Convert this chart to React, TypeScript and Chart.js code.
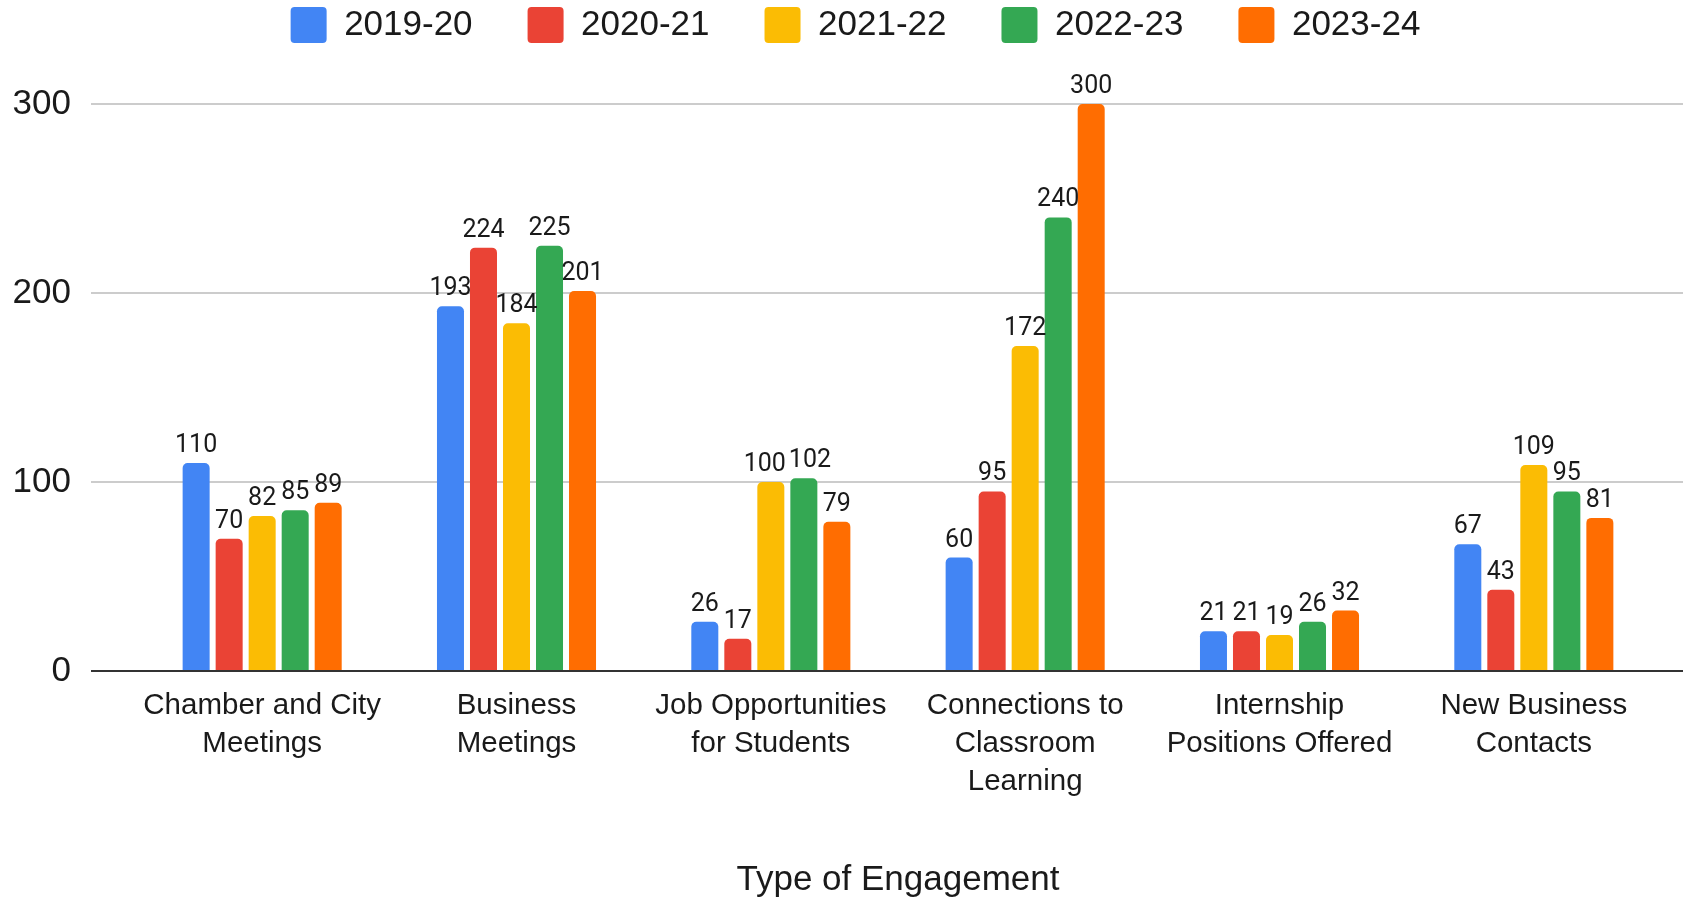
import { useEffect, useRef } from "react";
import { Chart, registerables } from "chart.js";

Chart.register(...registerables);

// ---- data ----
const categories: string[][] = [
  ["Chamber and City", "Meetings"],
  ["Business", "Meetings"],
  ["Job Opportunities", "for Students"],
  ["Connections to", "Classroom", "Learning"],
  ["Internship", "Positions Offered"],
  ["New Business", "Contacts"],
];
const seriesNames = ["2019-20", "2020-21", "2021-22", "2022-23", "2023-24"];
const values201920 = [110, 193, 26, 60, 21, 67];
const values202021 = [70, 224, 17, 95, 21, 43];
const values202122 = [82, 184, 100, 172, 19, 109];
const values202223 = [85, 225, 102, 240, 26, 95];
const values202324 = [89, 201, 79, 300, 32, 81];
const seriesColors = ["#4285F4", "#EA4335", "#FBBC04", "#34A853", "#FF6D01"];
const yMin = 0;
const yMax = 300;
const yStep = 100;
const xAxisTitle = "Type of Engagement";

// ---- style constants ----
const W = 1683;
const H = 901;
const GRID_COLOR = "#cccccc";
const ZERO_COLOR = "#333333";
const TEXT_COLOR = "#1a1a1a";
const TICK_LEN = 44;
const LABEL_GAP = 11;
const SANS = "'Liberation Sans', Arial, sans-serif";

const allSeries = [values201920, values202021, values202122, values202223, values202324];

const extrasPlugin = {
  id: "extras",
  afterLayout(chart: any) {
    // let the y tick labels use the space left of the axis box (avoid clipping)
    if (chart.scales.y) chart.scales.y.left = 0;
  },
  beforeDatasetsDraw(chart: any) {
    const { ctx, chartArea, scales } = chart;
    const y = scales.y;
    ctx.save();
    ctx.strokeStyle = GRID_COLOR;
    ctx.lineWidth = 2;
    y.ticks.forEach((t: any) => {
      if (t.value === 0) return;
      const py = Math.round(y.getPixelForValue(t.value));
      ctx.beginPath();
      ctx.moveTo(chartArea.right, py);
      ctx.lineTo(chart.width, py);
      ctx.stroke();
    });
    ctx.restore();
  },
  afterDatasetsDraw(chart: any) {
    const { ctx, chartArea, scales } = chart;
    const y = scales.y;
    ctx.save();
    // baseline over the bars
    const py0 = Math.round(y.getPixelForValue(0));
    ctx.strokeStyle = ZERO_COLOR;
    ctx.lineWidth = 2;
    ctx.beginPath();
    ctx.moveTo(chartArea.left - TICK_LEN, py0);
    ctx.lineTo(chart.width, py0);
    ctx.stroke();

    // value labels
    ctx.font = "25px Roboto, 'Liberation Sans', sans-serif";
    ctx.fillStyle = TEXT_COLOR;
    ctx.textAlign = "center";
    ctx.textBaseline = "alphabetic";
    const n = chart.data.labels.length;
    for (let c = 0; c < n; c++) {
      const items: { text: string; x: number; y: number; w: number }[] = [];
      chart.data.datasets.forEach((ds: any, d: number) => {
        const meta = chart.getDatasetMeta(d);
        if (meta.hidden) return;
        const el = meta.data[c];
        const text = String(ds.data[c]);
        items.push({ text, x: el.x, y: el.y - LABEL_GAP, w: ctx.measureText(text).width });
      });
      for (let i = 1; i < items.length; i++) {
        const a = items[i - 1];
        const b = items[i];
        if (Math.abs(a.y - b.y) < 20) {
          const overlap = a.x + a.w / 2 + 3 - (b.x - b.w / 2);
          if (overlap > 0) {
            a.x -= overlap / 2;
            b.x += overlap / 2;
          }
        }
      }
      items.forEach((it) => ctx.fillText(it.text, it.x, it.y));
    }
    ctx.restore();
  },
};

export default function App() {
  const ref = useRef<HTMLCanvasElement>(null);

  useEffect(() => {
    document.body.style.margin = "0";
    const canvas = ref.current!;
    const chart = new Chart(canvas, {
      type: "bar",
      data: {
        labels: categories,
        datasets: seriesNames.map((name, i) => ({
          label: name,
          data: allSeries[i],
          backgroundColor: seriesColors[i],
          borderWidth: 0,
          borderRadius: 5,
          borderSkipped: "start",
          categoryPercentage: 0.649,
          barPercentage: 0.818,
        })),
      },
      options: {
        animation: false,
        responsive: false,
        devicePixelRatio: 1,
        layout: { padding: { top: -48, left: 50, right: 22, bottom: 0 } },
        plugins: {
          tooltip: { enabled: false },
          title: {
            display: true,
            text: "",
            weight: 500,
            padding: { top: 0, bottom: 50 },
            font: { size: 1, lineHeight: 1 },
          } as any,
          legend: {
            position: "top",
            align: "center",
            labels: {
              boxWidth: 36,
              boxHeight: 36,
              padding: 55,
              color: TEXT_COLOR,
              useBorderRadius: true,
              borderRadius: 4,
              font: { family: SANS, size: 35 },
            },
          },
        },
        scales: {
          x: {
            grid: { display: false, drawTicks: false },
            border: { display: false },
            ticks: {
              color: TEXT_COLOR,
              padding: 16,
              maxRotation: 0,
              autoSkip: false,
              font: { family: SANS, size: 29.5, lineHeight: 1.29 },
            },
            title: {
              display: true,
              text: xAxisTitle,
              color: TEXT_COLOR,
              padding: { top: 0, bottom: 0 },
              font: { family: SANS, size: 35, lineHeight: 1.2 },
            },
            afterFit: (scale: any) => {
              scale.height = 230;
            },
          },
          y: {
            min: yMin,
            max: yMax,
            border: { display: false },
            grid: {
              color: (c: any) => (c.tick && c.tick.value === 0 ? ZERO_COLOR : GRID_COLOR),
              tickColor: (c: any) => (c.tick && c.tick.value === 0 ? ZERO_COLOR : GRID_COLOR),
              lineWidth: 2,
              drawTicks: true,
              tickLength: TICK_LEN,
            },
            ticks: {
              stepSize: yStep,
              color: TEXT_COLOR,
              padding: 20,
              font: { family: SANS, size: 35 },
            },
            afterFit: (scale: any) => {
              scale.width = 85;
            },
          },
        },
      },
      plugins: [extrasPlugin],
    } as any);
    return () => chart.destroy();
  }, []);

  return (
    <div style={{ position: "absolute", left: 0, top: 0, width: W, height: H, background: "#ffffff" }}>
      <canvas ref={ref} width={W} height={H} style={{ display: "block", width: W, height: H }} />
    </div>
  );
}
